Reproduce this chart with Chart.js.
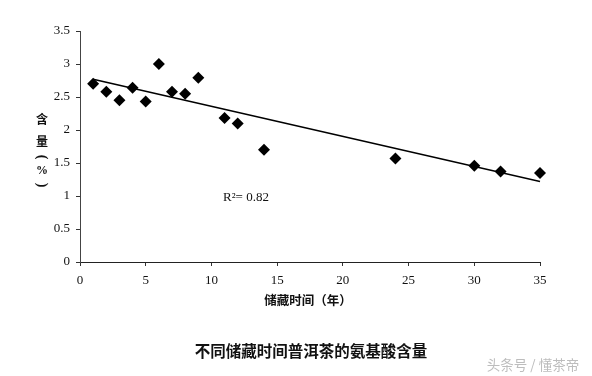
<!DOCTYPE html>
<html>
<head>
<meta charset="utf-8">
<script src="https://cdn.jsdelivr.net/npm/chart.js@4.4.1/dist/chart.umd.min.js"></script>
<style>
html,body{margin:0;padding:0;background:#fff;}
canvas{display:block;}
</style>
</head>
<body>
<canvas id="c" width="592" height="376"></canvas>
<script>
// Data
const years   = [1, 2, 3, 4, 5, 6, 7, 8, 9, 11, 12, 14, 24, 30, 32, 35];
const content = [2.70, 2.58, 2.45, 2.64, 2.43, 3.00, 2.58, 2.55, 2.79, 2.18, 2.10, 1.70, 1.57, 1.46, 1.37, 1.35];
const trendYears = [1, 35];
const trendValues = [2.77, 1.22];
const xTicks = [0, 5, 10, 15, 20, 25, 30, 35];
const yTicks = [0, 0.5, 1, 1.5, 2, 2.5, 3, 3.5];
const yTitleChars = ['含', '量', '(', '%', ')'];
const xTitle = '储藏时间（年）';
const chartTitle = '不同储藏时间普洱茶的氨基酸含量';
const r2Label = 'R²= 0.82';
const watermark = '头条号 / 懂茶帝';

const points = years.map((x, i) => ({x: x, y: content[i]}));
const trend = trendYears.map((x, i) => ({x: x, y: trendValues[i]}));

const serif = '"Liberation Serif", "Times New Roman", serif';
const cjk = '"Noto Sans CJK SC", sans-serif';

const textPlugin = {
  id: 'texts',
  beforeDraw(chart) {
    const ctx = chart.ctx;
    ctx.save();
    ctx.fillStyle = '#fff';
    ctx.fillRect(0, 0, chart.width, chart.height);
    ctx.restore();
  },
  afterDraw(chart) {
    const ctx = chart.ctx;
    ctx.save();
    ctx.textAlign = 'center';
    ctx.textBaseline = 'middle';
    ctx.fillStyle = '#111';
    // Y title, stacked vertically (parentheses turned for vertical writing)
    const yPos = [119, 141, 157, 171, 185];
    yTitleChars.forEach((ch, i) => {
      ctx.save();
      ctx.translate(42, yPos[i]);
      if (ch === '(' || ch === ')') {
        ctx.rotate(Math.PI / 2);
        ctx.font = 'bold 14px ' + serif;
      } else if (ch === '%') {
        ctx.font = 'bold 12px ' + serif;
      } else {
        ctx.font = 'bold 12px ' + cjk;
      }
      ctx.fillText(ch, 0, 0);
      ctx.restore();
    });
    // X title
    ctx.font = 'bold 12.5px ' + cjk;
    ctx.fillText(xTitle, 308, 300);
    // R2 label
    ctx.textAlign = 'left';
    ctx.font = '13px ' + serif;
    ctx.fillText(r2Label, 223, 198);
    // Chart caption
    ctx.textAlign = 'center';
    ctx.font = 'bold 15.5px ' + cjk;
    ctx.fillText(chartTitle, 311, 351);
    // Watermark
    ctx.fillStyle = '#bdbdbd';
    ctx.font = '13.5px ' + cjk;
    ctx.fillText(watermark, 533, 365);
    ctx.restore();
  }
};

new Chart(document.getElementById('c'), {
  type: 'scatter',
  data: {
    datasets: [
      {
        label: 'content',
        data: points,
        pointStyle: 'rectRot',
        pointRadius: 6,
        pointHoverRadius: 6,
        backgroundColor: '#000',
        borderColor: '#000',
        borderWidth: 0,
        clip: false,
        order: 1
      },
      {
        label: 'trend',
        type: 'line',
        data: trend,
        borderColor: '#000',
        borderWidth: 1.5,
        pointRadius: 0,
        fill: false,
        tension: 0,
        clip: false,
        order: 2
      }
    ]
  },
  options: {
    responsive: false,
    devicePixelRatio: 1,
    animation: false,
    layout: {padding: {left: 0, right: 52, top: 31, bottom: 0}},
    plugins: {legend: {display: false}, tooltip: {enabled: false}},
    scales: {
      x: {
        type: 'linear',
        min: 0, max: 35,
        afterBuildTicks(s) { s.ticks = xTicks.map(v => ({value: v})); },
        afterFit(s) { s.height = 114; },
        ticks: {font: {family: serif, size: 13}, color: '#111', padding: 7, maxRotation: 0,
                callback: v => String(v)},
        grid: {drawOnChartArea: false, drawTicks: true, tickLength: 4, color: '#333'},
        border: {display: true, color: '#222', width: 1}
      },
      y: {
        min: 0, max: 3.5,
        afterBuildTicks(s) { s.ticks = yTicks.map(v => ({value: v})); },
        afterFit(s) { s.width = 80; },
        ticks: {font: {family: serif, size: 13}, color: '#111', padding: 6,
                callback: v => String(v)},
        grid: {drawOnChartArea: false, drawTicks: true, tickLength: 4, color: '#333'},
        border: {display: true, color: '#444', width: 1}
      }
    }
  },
  plugins: [textPlugin]
});
</script>
</body>
</html>
